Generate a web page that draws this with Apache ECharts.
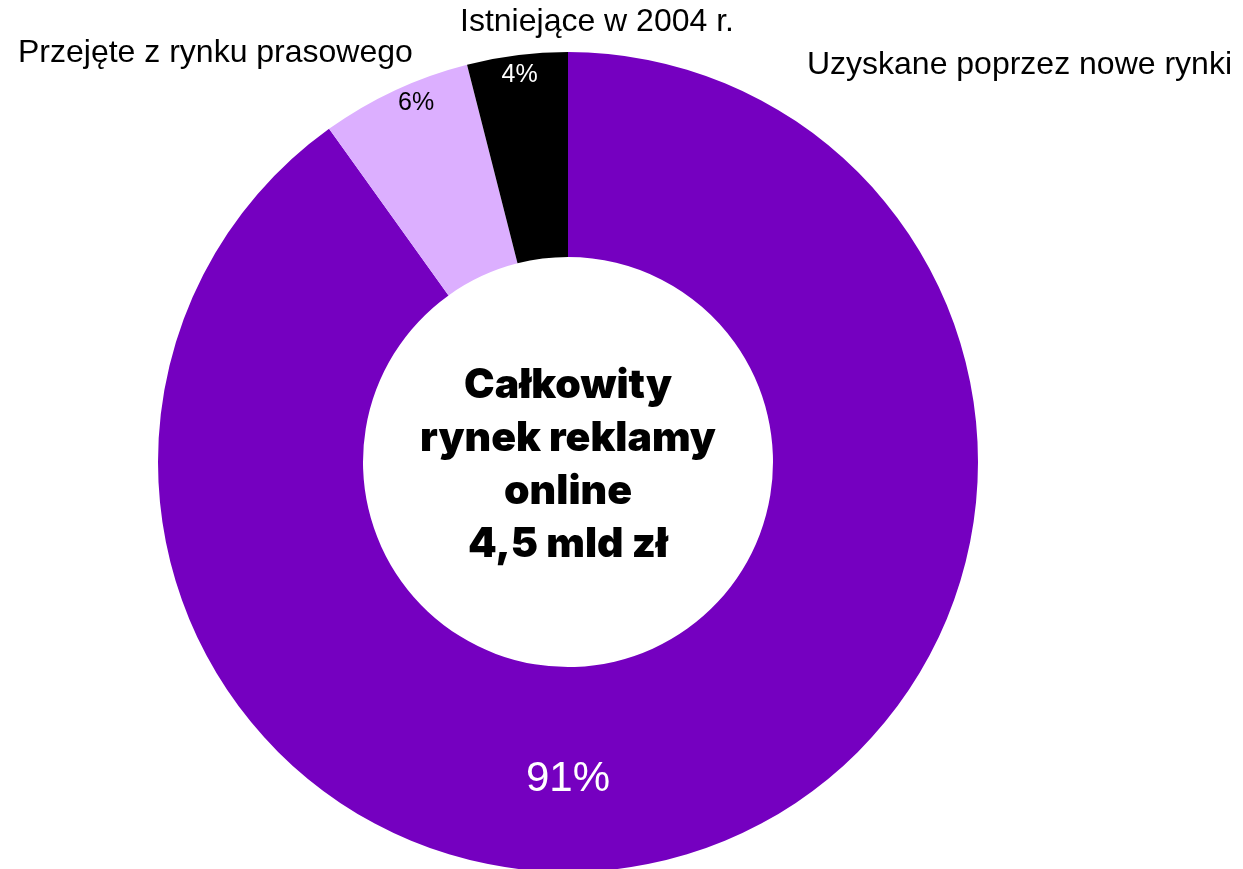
<!DOCTYPE html>
<html>
<head>
<meta charset="utf-8">
<script src="https://cdn.jsdelivr.net/npm/echarts@6/dist/echarts.min.js"></script>
<style>
  html, body { margin: 0; padding: 0; background: #ffffff; }
  #chart { width: 1243px; height: 869px; }
</style>
</head>
<body>
<div id="chart"></div>
<script>
// Segments of the online advertising market, clockwise from 12 o'clock
const categories = ['Uzyskane poprzez nowe rynki', 'Przejęte z rynku prasowego', 'Istniejące w 2004 r.'];
const shares = [91, 6, 4];
const sliceColors = ['#7500C0', '#DCAFFF', '#000000'];
const shareLabelColors = ['#ffffff', '#000000', '#ffffff'];
const centerLines = ['Całkowity', 'rynek reklamy', 'online', '4,5 mld zł'];

const CX = 568, CY = 462, R_OUT = 410, R_IN = 205;

// mid-angle of each slice (degrees clockwise from 12 o'clock)
const total = shares.reduce((a, b) => a + b, 0);
let acc = 0;
const midAngles = shares.map(v => { const m = (acc + v / 2) / total * 360; acc += v; return m; });

const chart = echarts.init(document.getElementById('chart'), null, { renderer: 'canvas' });

const labelFont = '32px "Liberation Sans", Arial, sans-serif';

chart.setOption({
  animation: false,
  backgroundColor: '#ffffff',
  series: [{
    type: 'pie',
    center: [CX, CY],
    radius: [R_IN, R_OUT],
    startAngle: 90,
    clockwise: true,
    silent: true,
    itemStyle: { borderWidth: 0 },
    label: {
      show: true,
      position: 'inside',
      formatter: p => p.value + '%',
      fontFamily: 'Liberation Sans, Arial, sans-serif',
      align: 'center',
      verticalAlign: 'middle'
    },
    labelLine: { show: false },
    labelLayout: function (params) {
      const i = params.dataIndex;
      // large slice: its percentage sits at the bottom of the ring
      if (i === 0) return { x: CX, y: CY + R_OUT * 0.775, align: 'center', verticalAlign: 'middle' };
      const a = (midAngles[i] + (i === 1 ? 2 : 0)) * Math.PI / 180;
      const r = R_OUT * 0.95;
      return { x: CX + r * Math.sin(a), y: CY - r * Math.cos(a), align: 'center', verticalAlign: 'middle' };
    },
    data: categories.map((name, i) => ({
      name: name,
      value: shares[i],
      itemStyle: { color: sliceColors[i] },
      label: { color: shareLabelColors[i], fontSize: i === 0 ? 42 : 25 }
    }))
  }],
  graphic: [
    {
      type: 'text',
      style: {
        text: centerLines.join('\n'),
        x: CX, y: CY + 3,
        textAlign: 'center', textVerticalAlign: 'middle',
        font: '900 41px Inter, "Noto Sans", sans-serif',
        lineHeight: 53,
        fill: '#000000'
      }
    },
    {
      type: 'text',
      style: {
        text: categories[2],
        x: 597, y: 22,
        textAlign: 'center', textVerticalAlign: 'middle',
        font: labelFont,
        fill: '#000000'
      }
    },
    {
      type: 'text',
      style: {
        text: categories[1],
        x: 18, y: 53,
        textAlign: 'left', textVerticalAlign: 'middle',
        font: labelFont,
        fill: '#000000'
      }
    },
    {
      type: 'text',
      style: {
        text: categories[0],
        x: 1232, y: 65,
        textAlign: 'right', textVerticalAlign: 'middle',
        font: labelFont,
        fill: '#000000'
      }
    }
  ]
});
</script>
</body>
</html>
